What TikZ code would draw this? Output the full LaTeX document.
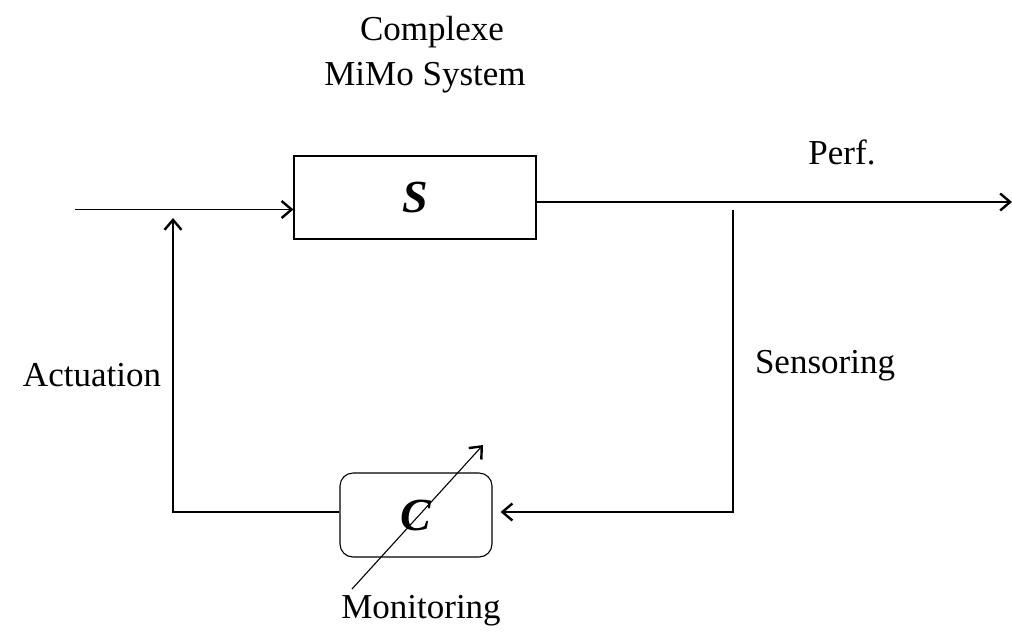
\documentclass[tikz,border=0pt]{standalone}
\usepackage{fontspec}
\setmainfont{Liberation Serif}
\usetikzlibrary{arrows.meta}
\begin{document}
\begin{tikzpicture}[x=1pt,y=-1pt,
  line width=1.1pt,
  >={Straight Barb[length=10pt,width=17pt,line width=2.4pt]},
  lbl/.style={font=\fontsize{35}{42}\selectfont, inner sep=0pt},
  blk/.style={draw, font=\fontsize{46}{52}\selectfont\bfseries\itshape, inner sep=0pt}]
\useasboundingbox (0,0) rectangle (1012,641);

% plant and controller blocks
\node[blk, minimum width=242pt, minimum height=83pt] (S) at (415,197.5) {S};
\node[blk, rounded corners=13pt, minimum width=152pt, minimum height=84pt] (C) at (416,515) {C};

% labels
\node[lbl] (cx)   at (432,32)  {Complexe};
\node[lbl] (mimo) at (425,78)  {MiMo System};
\node[lbl] (perf) at (842,152) {Perf.};
\node[lbl] (act)  at (92,375)  {Actuation};
\node[lbl] (sen)  at (825,366) {Sensoring};
\node[lbl] (mon)  at (421,611) {Monitoring};

% connection points
\coordinate (in)   at (75,209.5);
\coordinate (out)  at (1012,202);
\coordinate (sTop) at (733,209.5);
\coordinate (sBot) at (733,512);
\coordinate (aBot) at (173,512);
\coordinate (aTop) at (173,218);
\coordinate (mA)   at (352,589);
\coordinate (mB)   at (483,445);

% signal paths
\draw[->] (in) -- (in -| S.west);
\draw[->] (S.east |- out) -- (out);
\draw[->] (sTop) -- (sBot) -- ([xshift=8pt]C.east |- sBot);
\draw[->] (C.west |- aBot) -- (aBot) -- (aTop);
\draw[->] (mA) -- (mB);
\end{tikzpicture}
\end{document}
